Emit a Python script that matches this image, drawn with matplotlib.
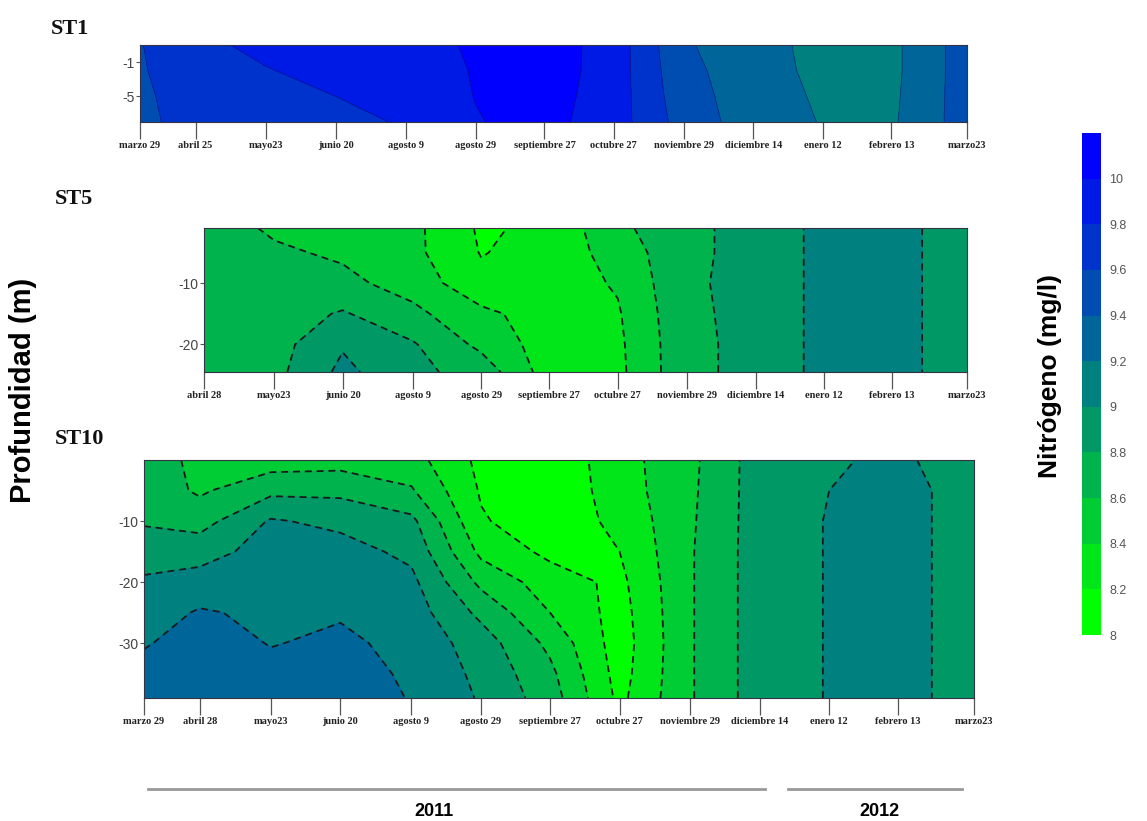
import numpy as np
import matplotlib
matplotlib.use('Agg')
import matplotlib.pyplot as plt
from matplotlib.colors import LinearSegmentedColormap, BoundaryNorm
from matplotlib.lines import Line2D

# posiciones de muestreo (eje x comun) y etiquetas de fecha
fechas_x = [0, 0.8, 1.82, 2.82, 3.84, 4.84, 5.83, 6.83, 7.84, 8.84, 9.84, 10.83, 11.92]
fechas_st1 = ['marzo 29', 'abril 25', 'mayo23', 'junio 20', 'agosto 9', 'agosto 29',
              'septiembre 27', 'octubre 27', 'noviembre 29', 'diciembre 14', 'enero 12',
              'febrero 13', 'marzo23']
fechas_st10 = ['marzo 29', 'abril 28', 'mayo23', 'junio 20', 'agosto 9', 'agosto 29',
               'septiembre 27', 'octubre 27', 'noviembre 29', 'diciembre 14', 'enero 12',
               'febrero 13', 'marzo23']
fechas_st5 = fechas_st10[1:]

# ST1: perfil de nitrogeno (mg/l) por fecha, profundidades prof_st1
prof_st1 = [1, -2, -5, -8]
n_st1 = [
    [9.59, 9.58, 9.56, 9.55],
    [9.75, 9.72, 9.70, 9.68],
    [9.85, 9.79, 9.74, 9.70],
    [9.90, 9.86, 9.80, 9.74],
    [9.94, 9.92, 9.88, 9.82],
    [10.02, 10.01, 10.005, 9.99],
    [10.10, 10.10, 10.08, 10.06],
    [9.915, 9.91, 9.905, 9.90],
    [9.42, 9.45, 9.48, 9.515],
    [9.30, 9.30, 9.30, 9.30],
    [9.12, 9.14, 9.17, 9.19],
    [9.15, 9.15, 9.16, 9.17],
    [9.50, 9.50, 9.50, 9.50],
]

# ST5 (sin muestreo en marzo 29)
prof_st5 = [-1, -5, -10, -15, -20, -24.5]
n_st5 = [
    [8.70, 8.72, 8.72, 8.72, 8.72, 8.72],
    [8.57, 8.63, 8.68, 8.70, 8.72, 8.74],
    [8.45, 8.57, 8.65, 8.82, 8.98, 9.05],
    [8.45, 8.45, 8.52, 8.65, 8.82, 8.85],
    [8.17, 8.19, 8.25, 8.45, 8.55, 8.72],
    [8.25, 8.28, 8.30, 8.30, 8.30, 8.30],
    [8.55, 8.48, 8.42, 8.38, 8.36, 8.35],
    [8.76, 8.76, 8.77, 8.76, 8.75, 8.75],
    [8.86, 8.86, 8.86, 8.86, 8.86, 8.86],
    [9.06, 9.06, 9.06, 9.06, 9.06, 9.06],
    [9.10, 9.10, 9.10, 9.10, 9.10, 9.10],
    [8.85, 8.85, 8.85, 8.85, 8.85, 8.85],
]

# ST10
prof_st10 = [0, -5, -10, -15, -20, -25, -30, -35, -39]
n_st10 = [
    [8.70, 8.72, 8.78, 8.90, 9.03, 9.10, 9.18, 9.28, 9.30],
    [8.55, 8.57, 8.72, 8.92, 9.08, 9.22, 9.30, 9.32, 9.33],
    [8.50, 8.75, 9.02, 9.08, 9.12, 9.16, 9.19, 9.26, 9.30],
    [8.52, 8.75, 8.95, 9.08, 9.12, 9.18, 9.24, 9.28, 9.30],
    [8.48, 8.62, 8.85, 8.95, 9.05, 9.10, 9.14, 9.17, 9.19],
    [8.15, 8.18, 8.22, 8.35, 8.55, 8.75, 8.90, 8.95, 8.98],
    [8.05, 8.05, 8.08, 8.15, 8.30, 8.40, 8.55, 8.65, 8.70],
    [8.32, 8.30, 8.25, 8.20, 8.15, 8.12, 8.10, 8.12, 8.15],
    [8.55, 8.56, 8.57, 8.58, 8.58, 8.58, 8.58, 8.58, 8.58],
    [8.90, 8.90, 8.90, 8.90, 8.90, 8.90, 8.90, 8.90, 8.90],
    [8.97, 9.00, 9.01, 9.01, 9.01, 9.01, 9.01, 9.01, 9.01],
    [9.05, 9.12, 9.12, 9.12, 9.12, 9.12, 9.12, 9.12, 9.12],
    [8.85, 8.85, 8.85, 8.85, 8.85, 8.85, 8.85, 8.85, 8.85],
]

niveles = np.round(np.arange(8.0, 10.21, 0.2), 1)
ticks_cb = np.round(np.arange(8.0, 10.01, 0.2), 1)

plt.rcParams['lines.dashed_pattern'] = [5, 3.5]
plt.rcParams['lines.scale_dashes'] = False

cmap = LinearSegmentedColormap.from_list('nitrogeno', ['#00ff00', '#0000ff'])
norm = BoundaryNorm(niveles, cmap.N)

W, H = 1147, 821
fig = plt.figure(figsize=(W / 100, H / 100), dpi=100)


def rect(x0, y0, x1, y1):
    return [x0 / W, 1 - y1 / H, (x1 - x0) / W, (y1 - y0) / H]


def panel(caja, xs, prof, datos, etiquetas, yticks, discontinua=True):
    ax = fig.add_axes(caja)
    z = np.array(datos).T
    cf = ax.contourf(xs, prof, z, levels=niveles, cmap=cmap, norm=norm)
    if discontinua:
        ax.contour(xs, prof, z, levels=niveles, colors='#1a1a1a',
                   linewidths=1.3, linestyles='dashed')
    else:
        ax.contour(xs, prof, z, levels=niveles, colors='#10104a',
                   linewidths=0.6, alpha=0.5)
    ax.set_xlim(xs[0], xs[-1])
    ax.set_ylim(min(prof), max(prof))
    ax.set_xticks(xs)
    ax.set_xticklabels(etiquetas, fontsize=7.5, family='Liberation Serif',
                       fontweight='bold', color='#222222')
    ax.set_yticks(yticks)
    ax.set_yticklabels([f'{v:g}' for v in yticks], fontsize=10,
                       family='Liberation Sans', color='#444444')
    ax.tick_params(axis='x', length=12, width=0.9, color='#555555', pad=2)
    ax.tick_params(axis='y', length=3, width=0.8, color='#555555', pad=1)
    for s in ax.spines.values():
        s.set_linewidth(0.8)
        s.set_color('#333344')
    return cf


cf = panel(rect(140, 45, 967, 122), fechas_x, prof_st1, n_st1, fechas_st1,
           [-1, -5], discontinua=False)
panel(rect(204, 228, 967, 372), fechas_x[1:], prof_st5, n_st5, fechas_st5, [-10, -20])
panel(rect(144, 460, 974, 698), fechas_x, prof_st10, n_st10, fechas_st10, [-10, -20, -30])

for txt, x, y in [('ST1', 51, 29), ('ST5', 55, 199), ('ST10', 55, 439)]:
    fig.text(x / W, 1 - y / H, txt, fontsize=16, family='Liberation Serif',
             fontweight='bold', va='center', ha='left', color='#111111')

fig.text(23 / W, 1 - 390 / H, 'Profundidad (m)', rotation=90, fontsize=21,
         fontweight='bold', family='Liberation Sans', va='center', ha='center')

# barra de color
cax = fig.add_axes(rect(1082, 133, 1101, 635))
cb = fig.colorbar(cf, cax=cax, ticks=ticks_cb)
cb.ax.minorticks_off()
cb.ax.set_yticklabels([f'{v:g}' for v in ticks_cb], fontsize=9,
                      family='Liberation Sans', color='#555555')
cb.ax.tick_params(length=0, pad=6)
cb.outline.set_visible(False)
fig.text(1050 / W, 1 - 376 / H, 'Nitrógeno (mg/l)', rotation=90, fontsize=19,
         fontweight='bold', family='Liberation Sans', va='center', ha='center')

# años
for x0, x1, xt, anio in [(148, 765, 434, '2011'), (788, 962, 879, '2012')]:
    fig.add_artist(Line2D([x0 / W, x1 / W], [1 - 789 / H] * 2, transform=fig.transFigure,
                          color='#999999', linewidth=2))
    fig.text(xt / W, 1 - 811 / H, anio, fontsize=13, fontweight='bold',
             family='Liberation Sans', ha='center', va='center')

fig.savefig('out.png', dpi=100, facecolor='white')
